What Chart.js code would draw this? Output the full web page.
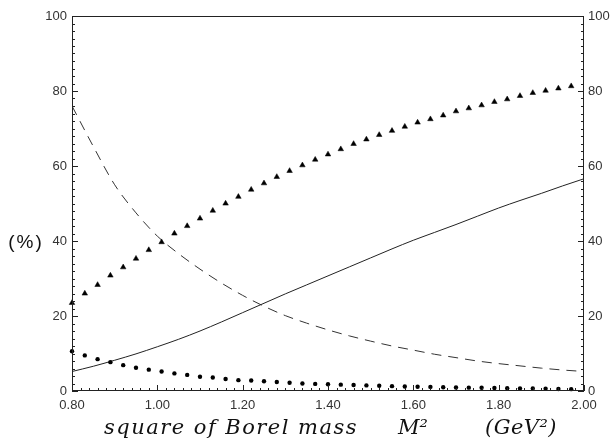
<!DOCTYPE html>
<html>
<head>
<meta charset="utf-8">
<script src="https://cdn.jsdelivr.net/npm/chart.js@4/dist/chart.umd.min.js"></script>
<style>
  html, body { margin: 0; padding: 0; background: #fff; }
  #wrap { width: 613px; height: 446px; position: relative; }
</style>
</head>
<body>
<div id="wrap"><canvas id="c"></canvas></div>
<script>
// x positions of the marker points (GeV^2)
const markX = [0.80, 0.83, 0.86, 0.89, 0.92, 0.95, 0.98, 1.01, 1.04, 1.07,
               1.10, 1.13, 1.16, 1.19, 1.22, 1.25, 1.28, 1.31, 1.34, 1.37,
               1.40, 1.43, 1.46, 1.49, 1.52, 1.55, 1.58, 1.61, 1.64, 1.67,
               1.70, 1.73, 1.76, 1.79, 1.82, 1.85, 1.88, 1.91, 1.94, 1.97];
const triangles = [23.5, 26.0, 28.3, 30.8, 33.0, 35.3, 37.6, 39.7, 42.0, 44.0,
                   46.0, 48.1, 50.0, 51.8, 53.7, 55.4, 57.1, 58.7, 60.2, 61.7,
                   63.1, 64.5, 65.9, 67.1, 68.3, 69.4, 70.5, 71.6, 72.5, 73.5,
                   74.6, 75.4, 76.2, 77.1, 77.8, 78.7, 79.5, 80.1, 80.7, 81.3];
const circles = [10.6, 9.5, 8.5, 7.7, 6.9, 6.2, 5.7, 5.2, 4.7, 4.3,
                 3.8, 3.6, 3.2, 2.9, 2.8, 2.6, 2.4, 2.2, 2.0, 1.9,
                 1.8, 1.7, 1.6, 1.5, 1.4, 1.3, 1.2, 1.15, 1.1, 1.0,
                 0.95, 0.9, 0.85, 0.8, 0.75, 0.7, 0.65, 0.6, 0.55, 0.5];

// x positions of the curves
const lineX = [0.80, 0.85, 0.90, 0.95, 1.00, 1.05, 1.10, 1.15, 1.20, 1.25,
               1.30, 1.35, 1.40, 1.45, 1.50, 1.55, 1.60, 1.65, 1.70, 1.75,
               1.80, 1.85, 1.90, 1.95, 2.00];
const solid = [5.2, 6.6, 8.2, 9.9, 11.8, 13.8, 16.0, 18.4, 20.9, 23.4,
               25.9, 28.3, 30.7, 33.1, 35.5, 37.9, 40.2, 42.3, 44.4, 46.6,
               48.8, 50.8, 52.7, 54.7, 56.6];
const dashed = [76.0, 65.2, 55.0, 47.5, 41.3, 36.6, 32.5, 28.8, 25.5, 22.6,
                20.1, 18.1, 16.3, 14.7, 13.3, 12.0, 10.9, 9.8, 8.9, 8.0,
                7.3, 6.7, 6.1, 5.6, 5.2];

const xTicks = [0.80, 1.00, 1.20, 1.40, 1.60, 1.80, 2.00];
const yTicks = [0, 20, 40, 60, 80, 100];

const pts = (xs, ys) => xs.map((x, i) => ({ x: x, y: ys[i] }));

const tickFont = { family: "Liberation Sans", size: 13 };

// frame, inward ticks, axis titles
const frame = {
    id: "frame",
    afterDraw(chart) {
        const ctx = chart.ctx;
        const a = chart.chartArea;
        const sx = chart.scales.x, sy = chart.scales.y;
        ctx.save();
        ctx.strokeStyle = "#222";
        ctx.lineWidth = 1;
        ctx.strokeRect(a.left + 0.5, a.top + 0.5, a.right - a.left - 1, a.bottom - a.top - 1);

        ctx.beginPath();
        // y ticks, both sides, every 2 with majors every 20
        for (let v = 0; v <= 100; v += 2) {
            const py = Math.round(sy.getPixelForValue(v)) + 0.5;
            const len = v % 20 === 0 ? 6 : 3;
            ctx.moveTo(a.left, py); ctx.lineTo(a.left + len, py);
            ctx.moveTo(a.right, py); ctx.lineTo(a.right - len, py);
        }
        // x ticks on the bottom
        for (let k = 0; k <= 60; k++) {
            const v = 0.80 + k * 0.02;
            const px = Math.round(sx.getPixelForValue(v)) + 0.5;
            const len = k % 10 === 0 ? 6 : 3;
            ctx.moveTo(px, a.bottom); ctx.lineTo(px, a.bottom - len);
        }
        ctx.stroke();

        // y title
        ctx.fillStyle = "#111";
        ctx.font = "19px 'Liberation Sans'";
        ctx.letterSpacing = "2px";
        ctx.textAlign = "center";
        ctx.textBaseline = "middle";
        ctx.fillText("(%)", 26, sy.getPixelForValue(39.5));

        // x title in italic serif, three parts
        ctx.textAlign = "left";
        ctx.textBaseline = "alphabetic";
        const parts = [
            { t: "square of Borel mass", x: 104, w: 254 },
            { t: "M²", x: 398, w: 30 },
            { t: "(GeV²)", x: 485, w: 72 }
        ];
        ctx.font = "italic 21px 'DejaVu Serif'";
        parts.forEach(p => {
            ctx.letterSpacing = "0px";
            const m = ctx.measureText(p.t).width;
            const n = p.t.length;
            ctx.letterSpacing = ((p.w - m) / n).toFixed(2) + "px";
            ctx.fillText(p.t, p.x, 434);
        });
        ctx.restore();
    }
};

new Chart(document.getElementById("c"), {
    type: "scatter",
    data: {
        datasets: [
            {
                label: "triangles",
                data: pts(markX, triangles),
                pointStyle: "triangle",
                pointRadius: 3.2,
                backgroundColor: "#000",
                borderColor: "#000",
                borderWidth: 0.5,
                clip: false
            },
            {
                label: "circles",
                data: pts(markX, circles),
                pointStyle: "circle",
                pointRadius: 2.2,
                backgroundColor: "#000",
                borderColor: "#000",
                borderWidth: 0,
                clip: false
            },
            {
                label: "solid",
                data: pts(lineX, solid),
                showLine: true,
                pointRadius: 0,
                borderColor: "#222",
                borderWidth: 1,
                cubicInterpolationMode: "monotone"
            },
            {
                label: "dashed",
                data: pts(lineX, dashed),
                showLine: true,
                pointRadius: 0,
                borderColor: "#333",
                borderWidth: 1,
                borderDash: [10, 7],
                cubicInterpolationMode: "monotone"
            }
        ]
    },
    options: {
        responsive: true,
        maintainAspectRatio: false,
        animation: false,
        layout: { padding: { top: 16, left: 0, right: 0, bottom: 0 } },
        plugins: {
            legend: { display: false },
            tooltip: { enabled: false }
        },
        scales: {
            x: {
                type: "linear",
                min: 0.80,
                max: 2.00,
                afterBuildTicks: s => { s.ticks = xTicks.map(v => ({ value: v })); },
                afterFit: s => { s.height = 55; },
                grid: { display: false, drawTicks: false },
                border: { display: false },
                ticks: {
                    padding: 7,
                    color: "#333",
                    font: tickFont,
                    maxRotation: 0,
                    callback: v => v.toFixed(2)
                }
            },
            y: {
                position: "left",
                min: 0,
                max: 100,
                afterBuildTicks: s => { s.ticks = yTicks.map(v => ({ value: v })); },
                afterFit: s => { s.width = 72; },
                grid: { display: false, drawTicks: false },
                border: { display: false },
                ticks: { padding: 5, color: "#333", font: tickFont }
            },
            y2: {
                position: "right",
                min: 0,
                max: 100,
                afterBuildTicks: s => { s.ticks = yTicks.map(v => ({ value: v })); },
                afterFit: s => { s.width = 29; },
                grid: { display: false, drawTicks: false },
                border: { display: false },
                ticks: { padding: 4, color: "#333", font: tickFont }
            }
        }
    },
    plugins: [frame]
});
</script>
</body>
</html>
